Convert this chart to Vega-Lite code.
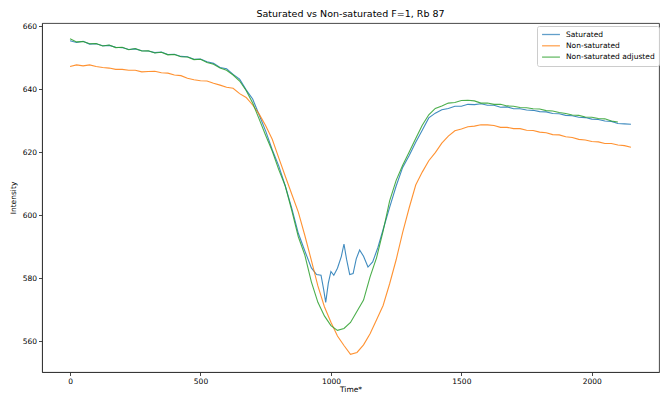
{
"$schema": "https://vega.github.io/schema/vega-lite/v6.json",
"autosize": {"type": "none"},
"width": 617, "height": 349,
"padding": {"left": 42, "top": 23, "right": 1, "bottom": 22},
"title": {"text": "Saturated vs Non-saturated F=1, Rb 87", "fontSize": 9.5, "fontWeight": "normal", "font": "DejaVu Sans", "color": "#000", "offset": 4},
"config": {
 "font": "DejaVu Sans",
 "view": {"stroke": "#333", "strokeWidth": 0.9},
 "axis": {"grid": false, "domainColor": "#333", "domainWidth": 0.9, "tickColor": "#333", "tickWidth": 0.9, "tickSize": 3.5, "labelFontSize": 7.5, "labelColor": "#000", "titleFontSize": 7.5, "titleFontWeight": "normal", "titleColor": "#000", "labelPadding": 2}
},
"data": {"values": [
{"t":0,"y":655.4,"s":"Saturated"},{"t":25,"y":654.8,"s":"Saturated"},{"t":50,"y":655.2,"s":"Saturated"},{"t":75,"y":654.3,"s":"Saturated"},{"t":100,"y":654.4,"s":"Saturated"},{"t":125,"y":653.8,"s":"Saturated"},{"t":150,"y":653.9,"s":"Saturated"},{"t":175,"y":653.3,"s":"Saturated"},{"t":200,"y":653.2,"s":"Saturated"},{"t":225,"y":652.6,"s":"Saturated"},{"t":250,"y":652.8,"s":"Saturated"},{"t":275,"y":652.2,"s":"Saturated"},{"t":300,"y":652.1,"s":"Saturated"},{"t":325,"y":651.6,"s":"Saturated"},{"t":350,"y":651.8,"s":"Saturated"},{"t":375,"y":651.0,"s":"Saturated"},{"t":400,"y":651.1,"s":"Saturated"},{"t":425,"y":650.4,"s":"Saturated"},{"t":450,"y":650.3,"s":"Saturated"},{"t":475,"y":649.5,"s":"Saturated"},{"t":500,"y":649.6,"s":"Saturated"},{"t":525,"y":648.7,"s":"Saturated"},{"t":550,"y":648.2,"s":"Saturated"},{"t":575,"y":646.9,"s":"Saturated"},{"t":600,"y":646.5,"s":"Saturated"},{"t":625,"y":644.7,"s":"Saturated"},{"t":650,"y":643.2,"s":"Saturated"},{"t":675,"y":639.8,"s":"Saturated"},{"t":700,"y":636.9,"s":"Saturated"},{"t":725,"y":631.8,"s":"Saturated"},{"t":750,"y":626.7,"s":"Saturated"},{"t":775,"y":620.8,"s":"Saturated"},{"t":800,"y":615.7,"s":"Saturated"},{"t":825,"y":609.3,"s":"Saturated"},{"t":850,"y":602.2,"s":"Saturated"},{"t":875,"y":594.3,"s":"Saturated"},{"t":900,"y":588.7,"s":"Saturated"},{"t":925,"y":583.3,"s":"Saturated"},{"t":945,"y":581.2,"s":"Saturated"},{"t":962,"y":581.0,"s":"Saturated"},{"t":972,"y":576.5,"s":"Saturated"},{"t":980,"y":572.4,"s":"Saturated"},{"t":990,"y":578.5,"s":"Saturated"},{"t":1000,"y":582.2,"s":"Saturated"},{"t":1011,"y":581.0,"s":"Saturated"},{"t":1025,"y":583.2,"s":"Saturated"},{"t":1040,"y":587.0,"s":"Saturated"},{"t":1050,"y":590.9,"s":"Saturated"},{"t":1060,"y":586.0,"s":"Saturated"},{"t":1072,"y":581.2,"s":"Saturated"},{"t":1085,"y":581.5,"s":"Saturated"},{"t":1097,"y":586.2,"s":"Saturated"},{"t":1110,"y":589.0,"s":"Saturated"},{"t":1125,"y":587.0,"s":"Saturated"},{"t":1142,"y":583.6,"s":"Saturated"},{"t":1160,"y":585.2,"s":"Saturated"},{"t":1180,"y":589.8,"s":"Saturated"},{"t":1200,"y":595.5,"s":"Saturated"},{"t":1225,"y":602.5,"s":"Saturated"},{"t":1250,"y":609.3,"s":"Saturated"},{"t":1275,"y":615.2,"s":"Saturated"},{"t":1300,"y":619.0,"s":"Saturated"},{"t":1325,"y":623.2,"s":"Saturated"},{"t":1350,"y":627.0,"s":"Saturated"},{"t":1375,"y":630.9,"s":"Saturated"},{"t":1400,"y":632.4,"s":"Saturated"},{"t":1425,"y":633.5,"s":"Saturated"},{"t":1450,"y":633.9,"s":"Saturated"},{"t":1475,"y":634.6,"s":"Saturated"},{"t":1500,"y":634.6,"s":"Saturated"},{"t":1525,"y":635.2,"s":"Saturated"},{"t":1550,"y":635.1,"s":"Saturated"},{"t":1575,"y":635.4,"s":"Saturated"},{"t":1600,"y":634.9,"s":"Saturated"},{"t":1625,"y":634.9,"s":"Saturated"},{"t":1650,"y":634.3,"s":"Saturated"},{"t":1675,"y":634.4,"s":"Saturated"},{"t":1700,"y":633.8,"s":"Saturated"},{"t":1725,"y":633.8,"s":"Saturated"},{"t":1750,"y":633.4,"s":"Saturated"},{"t":1775,"y":633.3,"s":"Saturated"},{"t":1800,"y":632.9,"s":"Saturated"},{"t":1825,"y":632.8,"s":"Saturated"},{"t":1850,"y":632.3,"s":"Saturated"},{"t":1875,"y":632.2,"s":"Saturated"},{"t":1900,"y":631.7,"s":"Saturated"},{"t":1925,"y":631.6,"s":"Saturated"},{"t":1950,"y":631.1,"s":"Saturated"},{"t":1975,"y":631.0,"s":"Saturated"},{"t":2000,"y":630.5,"s":"Saturated"},{"t":2025,"y":630.4,"s":"Saturated"},{"t":2050,"y":629.9,"s":"Saturated"},{"t":2075,"y":629.8,"s":"Saturated"},{"t":2100,"y":629.1,"s":"Saturated"},{"t":2125,"y":629.0,"s":"Saturated"},{"t":2150,"y":628.9,"s":"Saturated"},
{"t":0,"y":647.2,"s":"Non-saturated"},{"t":25,"y":647.7,"s":"Non-saturated"},{"t":50,"y":647.4,"s":"Non-saturated"},{"t":75,"y":647.7,"s":"Non-saturated"},{"t":100,"y":647.2,"s":"Non-saturated"},{"t":125,"y":646.9,"s":"Non-saturated"},{"t":150,"y":646.7,"s":"Non-saturated"},{"t":175,"y":646.3,"s":"Non-saturated"},{"t":200,"y":646.3,"s":"Non-saturated"},{"t":225,"y":646.0,"s":"Non-saturated"},{"t":250,"y":646.0,"s":"Non-saturated"},{"t":275,"y":645.5,"s":"Non-saturated"},{"t":300,"y":645.6,"s":"Non-saturated"},{"t":325,"y":645.7,"s":"Non-saturated"},{"t":350,"y":645.2,"s":"Non-saturated"},{"t":375,"y":645.1,"s":"Non-saturated"},{"t":400,"y":644.5,"s":"Non-saturated"},{"t":425,"y":644.3,"s":"Non-saturated"},{"t":450,"y":643.5,"s":"Non-saturated"},{"t":475,"y":643.0,"s":"Non-saturated"},{"t":500,"y":642.7,"s":"Non-saturated"},{"t":525,"y":642.6,"s":"Non-saturated"},{"t":550,"y":641.9,"s":"Non-saturated"},{"t":575,"y":641.3,"s":"Non-saturated"},{"t":600,"y":640.6,"s":"Non-saturated"},{"t":625,"y":640.3,"s":"Non-saturated"},{"t":650,"y":638.6,"s":"Non-saturated"},{"t":675,"y":637.4,"s":"Non-saturated"},{"t":700,"y":635.0,"s":"Non-saturated"},{"t":725,"y":632.1,"s":"Non-saturated"},{"t":750,"y":628.4,"s":"Non-saturated"},{"t":775,"y":624.1,"s":"Non-saturated"},{"t":800,"y":618.2,"s":"Non-saturated"},{"t":825,"y":612.4,"s":"Non-saturated"},{"t":850,"y":606.7,"s":"Non-saturated"},{"t":875,"y":601.0,"s":"Non-saturated"},{"t":900,"y":593.6,"s":"Non-saturated"},{"t":925,"y":585.7,"s":"Non-saturated"},{"t":950,"y":577.6,"s":"Non-saturated"},{"t":975,"y":571.0,"s":"Non-saturated"},{"t":1000,"y":566.1,"s":"Non-saturated"},{"t":1025,"y":561.7,"s":"Non-saturated"},{"t":1050,"y":558.7,"s":"Non-saturated"},{"t":1075,"y":555.9,"s":"Non-saturated"},{"t":1100,"y":556.5,"s":"Non-saturated"},{"t":1125,"y":558.9,"s":"Non-saturated"},{"t":1150,"y":562.4,"s":"Non-saturated"},{"t":1175,"y":566.9,"s":"Non-saturated"},{"t":1200,"y":571.4,"s":"Non-saturated"},{"t":1225,"y":578.3,"s":"Non-saturated"},{"t":1250,"y":585.9,"s":"Non-saturated"},{"t":1275,"y":594.6,"s":"Non-saturated"},{"t":1300,"y":602.4,"s":"Non-saturated"},{"t":1325,"y":609.6,"s":"Non-saturated"},{"t":1350,"y":613.7,"s":"Non-saturated"},{"t":1375,"y":617.3,"s":"Non-saturated"},{"t":1400,"y":619.9,"s":"Non-saturated"},{"t":1425,"y":622.9,"s":"Non-saturated"},{"t":1450,"y":625.1,"s":"Non-saturated"},{"t":1475,"y":626.8,"s":"Non-saturated"},{"t":1500,"y":627.4,"s":"Non-saturated"},{"t":1525,"y":628.1,"s":"Non-saturated"},{"t":1550,"y":628.3,"s":"Non-saturated"},{"t":1575,"y":628.7,"s":"Non-saturated"},{"t":1600,"y":628.7,"s":"Non-saturated"},{"t":1625,"y":628.5,"s":"Non-saturated"},{"t":1650,"y":627.9,"s":"Non-saturated"},{"t":1675,"y":627.9,"s":"Non-saturated"},{"t":1700,"y":627.5,"s":"Non-saturated"},{"t":1725,"y":627.5,"s":"Non-saturated"},{"t":1750,"y":627.0,"s":"Non-saturated"},{"t":1775,"y":626.9,"s":"Non-saturated"},{"t":1800,"y":626.4,"s":"Non-saturated"},{"t":1825,"y":626.2,"s":"Non-saturated"},{"t":1850,"y":625.6,"s":"Non-saturated"},{"t":1875,"y":625.5,"s":"Non-saturated"},{"t":1900,"y":624.9,"s":"Non-saturated"},{"t":1925,"y":624.7,"s":"Non-saturated"},{"t":1950,"y":624.1,"s":"Non-saturated"},{"t":1975,"y":623.9,"s":"Non-saturated"},{"t":2000,"y":623.4,"s":"Non-saturated"},{"t":2025,"y":623.3,"s":"Non-saturated"},{"t":2050,"y":622.8,"s":"Non-saturated"},{"t":2075,"y":622.8,"s":"Non-saturated"},{"t":2100,"y":622.3,"s":"Non-saturated"},{"t":2125,"y":622.1,"s":"Non-saturated"},{"t":2150,"y":621.6,"s":"Non-saturated"},
{"t":0,"y":656.0,"s":"Non-saturated adjusted"},{"t":25,"y":655.0,"s":"Non-saturated adjusted"},{"t":50,"y":655.1,"s":"Non-saturated adjusted"},{"t":75,"y":654.4,"s":"Non-saturated adjusted"},{"t":100,"y":654.5,"s":"Non-saturated adjusted"},{"t":125,"y":653.7,"s":"Non-saturated adjusted"},{"t":150,"y":654.0,"s":"Non-saturated adjusted"},{"t":175,"y":653.2,"s":"Non-saturated adjusted"},{"t":200,"y":653.3,"s":"Non-saturated adjusted"},{"t":225,"y":652.5,"s":"Non-saturated adjusted"},{"t":250,"y":652.9,"s":"Non-saturated adjusted"},{"t":275,"y":652.1,"s":"Non-saturated adjusted"},{"t":300,"y":652.2,"s":"Non-saturated adjusted"},{"t":325,"y":651.5,"s":"Non-saturated adjusted"},{"t":350,"y":651.7,"s":"Non-saturated adjusted"},{"t":375,"y":650.9,"s":"Non-saturated adjusted"},{"t":400,"y":651.0,"s":"Non-saturated adjusted"},{"t":425,"y":650.3,"s":"Non-saturated adjusted"},{"t":450,"y":650.2,"s":"Non-saturated adjusted"},{"t":475,"y":649.4,"s":"Non-saturated adjusted"},{"t":500,"y":649.5,"s":"Non-saturated adjusted"},{"t":525,"y":648.5,"s":"Non-saturated adjusted"},{"t":550,"y":647.9,"s":"Non-saturated adjusted"},{"t":575,"y":646.7,"s":"Non-saturated adjusted"},{"t":600,"y":646.0,"s":"Non-saturated adjusted"},{"t":625,"y":644.5,"s":"Non-saturated adjusted"},{"t":650,"y":642.6,"s":"Non-saturated adjusted"},{"t":675,"y":639.6,"s":"Non-saturated adjusted"},{"t":700,"y":635.6,"s":"Non-saturated adjusted"},{"t":725,"y":630.5,"s":"Non-saturated adjusted"},{"t":750,"y":625.3,"s":"Non-saturated adjusted"},{"t":775,"y":620.4,"s":"Non-saturated adjusted"},{"t":800,"y":614.5,"s":"Non-saturated adjusted"},{"t":825,"y":609.3,"s":"Non-saturated adjusted"},{"t":850,"y":601.5,"s":"Non-saturated adjusted"},{"t":875,"y":593.2,"s":"Non-saturated adjusted"},{"t":900,"y":587.4,"s":"Non-saturated adjusted"},{"t":925,"y":578.9,"s":"Non-saturated adjusted"},{"t":950,"y":572.4,"s":"Non-saturated adjusted"},{"t":975,"y":568.1,"s":"Non-saturated adjusted"},{"t":1000,"y":565.0,"s":"Non-saturated adjusted"},{"t":1025,"y":563.5,"s":"Non-saturated adjusted"},{"t":1050,"y":564.1,"s":"Non-saturated adjusted"},{"t":1075,"y":566.0,"s":"Non-saturated adjusted"},{"t":1100,"y":569.6,"s":"Non-saturated adjusted"},{"t":1125,"y":573.1,"s":"Non-saturated adjusted"},{"t":1150,"y":580.5,"s":"Non-saturated adjusted"},{"t":1175,"y":586.6,"s":"Non-saturated adjusted"},{"t":1200,"y":595.0,"s":"Non-saturated adjusted"},{"t":1225,"y":604.6,"s":"Non-saturated adjusted"},{"t":1250,"y":611.1,"s":"Non-saturated adjusted"},{"t":1275,"y":615.9,"s":"Non-saturated adjusted"},{"t":1300,"y":620.1,"s":"Non-saturated adjusted"},{"t":1325,"y":624.4,"s":"Non-saturated adjusted"},{"t":1350,"y":628.6,"s":"Non-saturated adjusted"},{"t":1375,"y":631.9,"s":"Non-saturated adjusted"},{"t":1400,"y":633.9,"s":"Non-saturated adjusted"},{"t":1425,"y":634.7,"s":"Non-saturated adjusted"},{"t":1450,"y":635.6,"s":"Non-saturated adjusted"},{"t":1475,"y":635.8,"s":"Non-saturated adjusted"},{"t":1500,"y":636.4,"s":"Non-saturated adjusted"},{"t":1525,"y":636.5,"s":"Non-saturated adjusted"},{"t":1550,"y":636.3,"s":"Non-saturated adjusted"},{"t":1575,"y":635.6,"s":"Non-saturated adjusted"},{"t":1600,"y":635.6,"s":"Non-saturated adjusted"},{"t":1625,"y":635.2,"s":"Non-saturated adjusted"},{"t":1650,"y":635.2,"s":"Non-saturated adjusted"},{"t":1675,"y":634.7,"s":"Non-saturated adjusted"},{"t":1700,"y":634.6,"s":"Non-saturated adjusted"},{"t":1725,"y":634.2,"s":"Non-saturated adjusted"},{"t":1750,"y":634.1,"s":"Non-saturated adjusted"},{"t":1775,"y":633.8,"s":"Non-saturated adjusted"},{"t":1800,"y":633.7,"s":"Non-saturated adjusted"},{"t":1825,"y":633.2,"s":"Non-saturated adjusted"},{"t":1850,"y":633.1,"s":"Non-saturated adjusted"},{"t":1875,"y":632.6,"s":"Non-saturated adjusted"},{"t":1900,"y":632.3,"s":"Non-saturated adjusted"},{"t":1925,"y":631.8,"s":"Non-saturated adjusted"},{"t":1950,"y":631.7,"s":"Non-saturated adjusted"},{"t":1975,"y":631.2,"s":"Non-saturated adjusted"},{"t":2000,"y":631.1,"s":"Non-saturated adjusted"},{"t":2025,"y":630.7,"s":"Non-saturated adjusted"},{"t":2050,"y":630.6,"s":"Non-saturated adjusted"},{"t":2075,"y":629.9,"s":"Non-saturated adjusted"},{"t":2100,"y":629.6,"s":"Non-saturated adjusted"}
]},
"mark": {"type": "line", "strokeWidth": 1.1, "opacity": 0.85, "clip": true},
"encoding": {
 "x": {"field": "t", "type": "quantitative", "scale": {"domain": [-107.5, 2257.5], "nice": false, "zero": false}, "axis": {"values": [0, 500, 1000, 1500, 2000], "format": "d", "title": "Time*", "titlePadding": 0}},
 "y": {"field": "y", "type": "quantitative", "scale": {"domain": [550.3, 661], "nice": false, "zero": false}, "axis": {"values": [560, 580, 600, 620, 640, 660], "format": "d", "title": "Intensity", "titlePadding": 5}},
 "color": {"field": "s", "type": "nominal", "sort": ["Saturated", "Non-saturated", "Non-saturated adjusted"],
  "scale": {"domain": ["Saturated", "Non-saturated", "Non-saturated adjusted"], "range": ["#1f77b4", "#ff7f0e", "#2ca02c"]},
  "legend": {"title": null, "orient": "none", "legendX": 495, "legendY": 3, "symbolType": "stroke", "symbolSize": 320, "symbolStrokeWidth": 1.3, "symbolOpacity": 0.7, "labelFontSize": 7.5, "labelColor": "#000", "clipHeight": 9, "rowPadding": 2.3, "padding": 4, "strokeColor": "#ccc", "fillColor": "rgba(255,255,255,0.8)", "cornerRadius": 2, "labelOffset": 5}},
 "order": {"field": "t", "type": "quantitative"}
}
}
